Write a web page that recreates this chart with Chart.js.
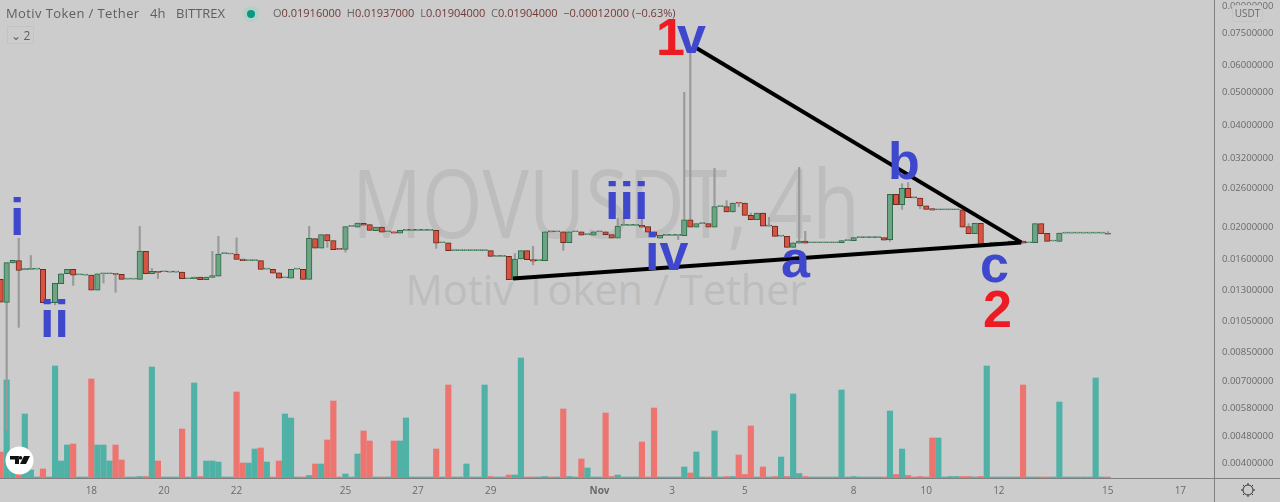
<!DOCTYPE html>
<html>
<head>
<meta charset="utf-8">
<title>MOVUSDT, 4h</title>
<script src="https://cdn.jsdelivr.net/npm/chart.js@4"></script>
<style>
    html, body { margin: 0; padding: 0; background: #cccccc; }
    body { width: 1280px; height: 502px; overflow: hidden; position: relative; font-family: "Open Sans", sans-serif; }
    canvas { position: absolute; left: 0; top: 0; }
    .abs { position: absolute; white-space: nowrap; }
    .mark { color: #bdbdbd; transform: translateX(-50%); }
    .head { font-size: 13px; color: #5f5f5f; top: 5px; line-height: 16px; }
    .ohlc { color: #6f3a36; font-size: 11px; }
    .ohlc b { font-weight: 400; color: #666; }
    .note { font-family: "Liberation Sans", sans-serif; font-weight: 700; line-height: 1; }
    .blue { color: #3f48cc; font-size: 52px; }
    .red { color: #ed1c24; font-size: 52px; }
    .rule { position: absolute; background: #808080; }
</style>
</head>
<body>
<div class="abs mark" style="left:606px;top:141px;font-size:96px;line-height:120px;transform:translateX(-50%) scaleX(.81)">MOVUSDT, 4h</div>
<div class="abs mark" style="left:606px;top:259px;font-size:41.500px;line-height:60px">Motiv Token / Tether</div>

<canvas id="chart" width="1280" height="502"></canvas>

<div class="rule" style="left:1214px;top:0;width:1px;height:502px"></div>
<div class="rule" style="left:0;top:478px;width:1280px;height:1px"></div>

<div class="abs head" style="left:6px;letter-spacing:.4px">Motiv Token / Tether</div>
<div class="abs head" style="left:150px">4h</div>
<div class="abs head" style="left:176px">BITTREX</div>
<div class="abs" style="left:243px;top:6px;width:16px;height:16px;border-radius:8px;background:#b5cfca"></div>
<div class="abs" style="left:247px;top:10px;width:8px;height:8px;border-radius:4px;background:#089981"></div>
<div class="abs head ohlc" style="left:273px"><b>O</b>0.01916000 &nbsp;<b>H</b>0.01937000 &nbsp;<b>L</b>0.01904000 &nbsp;<b>C</b>0.01904000 &nbsp;−0.00012000 (−0.63%)</div>
<div class="abs head" style="left:7px;top:26px;width:27px;height:18px;line-height:17px;border:1px solid #c3c3c3;box-sizing:border-box;font-size:12px;text-align:center">⌄ 2</div>
<div class="abs" style="left:1232px;top:5px;width:31px;height:17px;background:#cccccc;border:1px solid #c4c4c4;box-sizing:border-box;border-radius:3px;color:#6a6a6a;font-size:10px;line-height:15px;text-align:center">USDT</div>

<div class="abs note blue" style="left:10px;top:191px">i</div>
<div class="abs note blue" style="left:40px;top:293px">ii</div>
<div class="abs note blue" style="left:605px;top:175px">iii</div>
<div class="abs note blue" style="left:645px;top:226px">iv</div>
<div class="abs note red" style="left:656px;top:11px">1</div>
<div class="abs note blue" style="left:677px;top:9px">v</div>
<div class="abs note blue" style="left:781px;top:233px">a</div>
<div class="abs note blue" style="left:888px;top:135px">b</div>
<div class="abs note blue" style="left:980px;top:238px">c</div>
<div class="abs note red" style="left:983px;top:283px">2</div>

<svg class="abs" style="left:5px;top:446px" width="29" height="29" viewBox="0 0 29 29">
    <circle cx="14.5" cy="14.5" r="14" fill="#ffffff"/>
    <path d="M5 10h9v8h-4v-4.500H5zM15 18l4-8h6l-4 8z M15.500 10a1.800 1.800 0 1 0 .01 0z" fill="#111111"/>
</svg>
<svg class="abs" style="left:1240px;top:482px" width="16" height="16" viewBox="0 0 16 16" fill="none" stroke="#333333">
    <circle cx="8" cy="8" r="5"/>
    <path d="M8 1v2M8 13v2M1 8h2M13 8h2M3 3l1.500 1.500M11.500 11.500L13 13M13 3l-1.500 1.500M3 13l1.500-1.500"/>
</svg>

<script>
// bar number of each date label, one bar is 4h
const dayBars = [15, 27, 39, 57, 69, 81, 99, 111, 123, 141, 153, 165, 183, 195];
const dayLabels = ['18', '20', '22', '25', '27', '29', 'Nov', '3', '5', '8', '10', '12', '15', '17'];

const priceTicks = [0.09, 0.075, 0.06, 0.05, 0.04, 0.032, 0.026, 0.02, 0.016, 0.013, 0.0105, 0.0085, 0.007, 0.0058, 0.0048, 0.004];

const opens = [
    .01398, .01195, .01564, .01588, .01494, .01497, .01500, .01497, .01190, .01192,
    .01358, .01453, .01497, .01443, .01439, .01439, .01300, .01453, .01453, .01453,
    .01446, .01401, .01401, .01398, .01692, .01453, .01476, .01473, .01469, .01469,
    .01469, .01404, .01404, .01420, .01395, .01417, .01430, .01667, .01662, .01662,
    .01606, .01588, .01588, .01588, .01500, .01497, .01463, .01414, .01410, .01500,
    .01497, .01398, .01845, .01731, .01896, .01821, .01719, .01716, .02007, .01997,
    .02048, .02030, .01949, .01997, .01935, .01935, .01917, .01953, .01953, .01953,
    .01953, .01953, .01953, .01795, .01795, .01700, .01700, .01700, .01700, .01700,
    .01700, .01700, .01635, .01635, .01635, .01395, .01606, .01700, .01599, .01588,
    .01588, .01935, .01935, .01935, .01795, .01935, .01935, .01896, .01891, .01935,
    .01935, .01896, .01853, .02021, .02021, .02021, .02021, .02003, .01935, .01853,
    .01887, .01887, .01887, .01883, .02098, .01997, .02044, .02044, .01997, .02297,
    .02297, .02213, .02352, .02352, .02163, .02099, .02198, .02011, .02011, .01877,
    .01875, .01739, .01790, .01816, .01795, .01795, .01795, .01795, .01795, .01795,
    .01820, .01820, .01858, .01858, .01858, .01858, .01858, .01832, .02496, .02327,
    .02600, .02440, .02435, .02307, .02264, .02247, .02247, .02247, .02247, .02247,
    .02003, .01909, .02048, .01767, .01790, .01790, .01790, .01790, .01795, .01816,
    .01795, .01795, .02044, .01913, .01816, .01812, .01917, .01917, .01917, .01917,
    .01917, .01917, .01917, .01916
];
const closes = [
    .01197, .01567, .01591, .01486, .01494, .01497, .01500, .01192, .01190, .01360,
    .01453, .01497, .01439, .01443, .01439, .01300, .01453, .01453, .01453, .01446,
    .01398, .01401, .01401, .01696, .01453, .01476, .01466, .01473, .01469, .01469,
    .01404, .01404, .01420, .01395, .01420, .01434, .01662, .01667, .01662, .01602,
    .01588, .01588, .01588, .01497, .01500, .01459, .01410, .01414, .01497, .01500,
    .01398, .01849, .01731, .01896, .01816, .01712, .01716, .02003, .02007, .02053,
    .02024, .01953, .01997, .01930, .01935, .01917, .01953, .01953, .01953, .01953,
    .01953, .01953, .01790, .01795, .01700, .01700, .01700, .01700, .01700, .01700,
    .01700, .01635, .01635, .01635, .01395, .01606, .01700, .01599, .01584, .01588,
    .01935, .01932, .01935, .01795, .01935, .01935, .01891, .01896, .01935, .01935,
    .01896, .01853, .02011, .02021, .02021, .02021, .01997, .01930, .01887, .01887,
    .01887, .01887, .01887, .02098, .01997, .02044, .02044, .01997, .02297, .02297,
    .02213, .02352, .02349, .02163, .02099, .02198, .02011, .02011, .01875, .01877,
    .01739, .01795, .01816, .01790, .01795, .01795, .01795, .01795, .01795, .01820,
    .01820, .01858, .01858, .01858, .01858, .01858, .01828, .02496, .02327, .02600,
    .02440, .02437, .02307, .02253, .02242, .02247, .02247, .02247, .02247, .01997,
    .01909, .02048, .01763, .01787, .01790, .01790, .01790, .01816, .01795, .01790,
    .01795, .02044, .01909, .01812, .01816, .01917, .01917, .01917, .01917, .01917,
    .01917, .01917, .01917, .01904
];

// wicks that stick out of the body, bar number -> price
const highWicks = {
    3: .01849, 4: .01509, 5: .01645, 23: .02007, 25: .01507, 35: .01692, 36: .01875, 39: .01855,
    51: .02007, 85: .01667, 88: .01751, 102: .02123, 103: .02123, 106: .02123, 113: .05003, 114: .0666,
    118: .0298, 120: .02391, 124: .02198, 127: .02134, 132: .0300, 133: .01940, 149: .02684, 150: .02705,
    160: .02044, 183: .01937
};
const lowWicks = {
    1: .00500, 3: .01008, 9: .01175, 12: .01342, 17: .01363, 19: .01281, 26: .01407, 54: .01739,
    57: .01684, 72: .01727, 88: .01543, 93: .01704, 112: .01835, 122: .02293, 147: .01812, 149: .02253,
    152: .02264
};

const volumes = [
    26, 98, 7, 6, 64, 8, 1, 9, 1, 112,
    17, 33, 34, 1, 1, 99, 33, 33, 17, 33,
    18, 1, 1, 1.5, 1.5, 111, 17, 1, 1, 1,
    49, 1, 95, 1.5, 17, 17, 16, 1, 1, 86,
    15, 15, 29, 30, 16, 1, 17, 64, 60, 1,
    1, 2.5, 14, 14, 38, 77, 1, 4, 1, 24,
    47, 37, 1, 1, 1, 37, 37, 60, 1, 1,
    1, 1, 29, 1, 93, 1, 1, 14, 1, 1,
    93, 1.5, 1, 1, 3, 3, 120, 1, 1, 1,
    1.5, 1, 1, 69, 1.5, 1, 19, 10, 1, 1,
    65, 1.5, 3, 1, 1, 1, 36, 1, 70, 1,
    1, 1, 1, 11, 5, 26, 1, 1, 47, 1,
    1.5, 1.5, 23, 3.5, 52, 1, 11, 1, 1.5, 21,
    1.5, 84, 4.5, 1.5, 1, 1, 1, 1, 1, 88,
    1, 1.5, 1, 1, 1, 1, 1, 67, 3.5, 29,
    2.5, 1, 1.5, 1, 40, 40, 1, 1.5, 1.5, 1.5,
    1.5, 1, 1.5, 112, 1, 1, 1, 1, 1, 93,
    1, 1, 1, 1, 1, 76, 1, 1, 1, 1,
    1, 100, 1, 1
];

const supportLine = [[84.7, .01407], [168.7, .01799]];
const resistanceLine = [[114.8, .0680], [168.7, .01799]];

const GREEN = '#6ba583', GREEN_EDGE = '#2f6a4a';
const RED = '#d75442', RED_EDGE = '#6e2a20';
const VOL_GREEN = '#50b1a6', VOL_RED = '#ee7470';

const isUp = (i) => closes[i] >= opens[i];

const bodies = opens.map((o, i) => ({ x: i, y: [o, closes[i]] }));
const wicks = opens.map((o, i) => ({
    x: i,
    y: [lowWicks[i] || Math.min(o, closes[i]), highWicks[i] || Math.max(o, closes[i])]
}));
const volumeBars = volumes.map((v, i) => ({ x: i, y: v }));
const toPoints = (line) => line.map(([x, y]) => ({ x, y }));

const lineStyle = {
    type: 'line',
    borderColor: '#000000',
    borderWidth: 4,
    pointRadius: 0,
    borderCapStyle: 'butt',
    xAxisID: 'x',
    yAxisID: 'y',
    order: 1
};

// tick labels at the edges must not push the plot area in
const noEdgePadding = (axis) => {
    axis.paddingTop = 0;
    axis.paddingBottom = 0;
    axis.paddingLeft = 0;
    axis.paddingRight = 0;
};

new Chart(document.getElementById('chart'), {
    type: 'bar',
    data: {
        datasets: [
            {
                label: 'Volume',
                data: volumeBars,
                yAxisID: 'yVol',
                order: 4,
                barThickness: 5.5,
                grouped: false,
                backgroundColor: volumes.map((v, i) => isUp(i) ? VOL_GREEN : VOL_RED)
            },
            {
                label: 'Wicks',
                data: wicks,
                yAxisID: 'y',
                order: 3,
                barThickness: 1.5,
                grouped: false,
                backgroundColor: '#9a9a9a'
            },
            {
                label: 'MOVUSDT',
                data: bodies,
                yAxisID: 'y',
                order: 2,
                barThickness: 5.5,
                minBarLength: 1,
                grouped: false,
                borderWidth: 1,
                borderSkipped: false,
                backgroundColor: opens.map((o, i) => isUp(i) ? GREEN : RED),
                borderColor: opens.map((o, i) => isUp(i) ? GREEN_EDGE : RED_EDGE)
            },
            { ...lineStyle, label: 'Support', data: toPoints(supportLine) },
            { ...lineStyle, label: 'Resistance', data: toPoints(resistanceLine) }
        ]
    },
    options: {
        responsive: false,
        animation: false,
        layout: { padding: 0 },
        plugins: {
            legend: { display: false },
            tooltip: { enabled: false }
        },
        scales: {
            x: {
                type: 'linear',
                offset: false,
                min: -0.1,
                max: 200.56,
                grid: { display: false, drawTicks: false, tickLength: 0 },
                border: { display: false },
                afterBuildTicks: (axis) => { axis.ticks = dayBars.map(value => ({ value })); },
                afterFit: (axis) => { axis.height = 24; noEdgePadding(axis); },
                ticks: {
                    autoSkip: false,
                    maxRotation: 0,
                    padding: 7,
                    color: '#6a6a6a',
                    font: (ctx) => ({
                        family: 'Open Sans',
                        size: 10,
                        weight: ctx.tick && ctx.tick.value === 99 ? 'bold' : 'normal'
                    }),
                    callback: (value) => dayLabels[dayBars.indexOf(value)]
                }
            },
            y: {
                type: 'logarithmic',
                position: 'right',
                bounds: 'data',
                min: 0.00361,
                max: 0.0939,
                grid: { display: false, drawTicks: false, tickLength: 0 },
                border: { display: false },
                afterBuildTicks: (axis) => { axis.ticks = priceTicks.map(value => ({ value })); },
                afterFit: (axis) => { axis.width = 66; noEdgePadding(axis); },
                ticks: {
                    autoSkip: false,
                    padding: 8,
                    color: '#6a6a6a',
                    font: { family: 'Open Sans', size: 9.5 },
                    callback: (value) => value.toFixed(8)
                }
            },
            yVol: {
                type: 'linear',
                display: false,
                min: 0,
                max: 478
            }
        }
    }
});
</script>
</body>
</html>
